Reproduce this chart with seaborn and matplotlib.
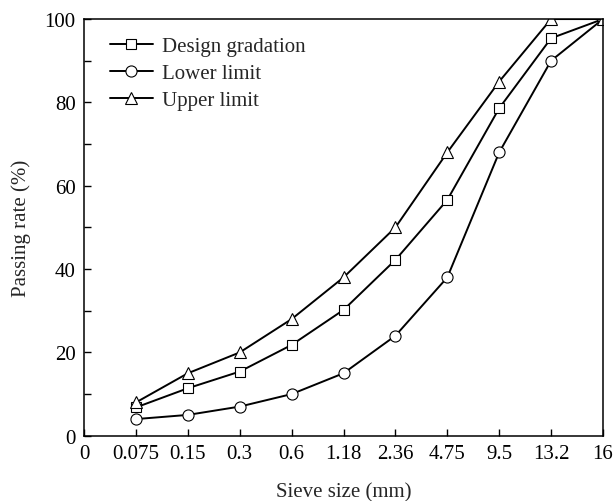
import numpy as np
import pandas as pd
import matplotlib
matplotlib.use("Agg")
import matplotlib.pyplot as plt
import seaborn as sns
from matplotlib.ticker import MultipleLocator

# sieve sizes (mm), "0" is an empty leading category on the axis
sieve_labels = ["0", "0.075", "0.15", "0.3", "0.6", "1.18", "2.36", "4.75", "9.5", "13.2", "16"]
sieve_sizes = ["0.075", "0.15", "0.3", "0.6", "1.18", "2.36", "4.75", "9.5", "13.2", "16"]

design = [6.8, 11.4, 15.4, 21.8, 30.2, 42.2, 56.6, 78.6, 95.4, 100]
lower = [4, 5, 7, 10, 15, 24, 38, 68, 90, 100]
upper = [8, 15, 20, 28, 38, 50, 68, 85, 100, 100]

series = [
    ("Design gradation", design, "s", 7.5),
    ("Lower limit", lower, "o", 8),
    ("Upper limit", upper, "^", 9),
]

sns.set_theme(style="ticks")
plt.rcParams["font.family"] = ["Liberation Serif", "DejaVu Serif"]

fig = plt.figure(figsize=(6.14, 5.02), dpi=100)
ax = fig.add_axes([0.137, 0.130, 0.845, 0.830])

pos = {lab: i for i, lab in enumerate(sieve_labels)}
for name, vals, mk, ms in series:
    df = pd.DataFrame({"x": [pos[s] for s in sieve_sizes], "y": vals})
    sns.lineplot(data=df, x="x", y="y", ax=ax, color="black", lw=1.4,
                 marker=mk, markersize=ms, markerfacecolor="white",
                 markeredgecolor="black", markeredgewidth=0.8, label=name)

ax.set_xlim(0, len(sieve_labels) - 1)
ax.set_ylim(0, 100)
ax.set_xticks(range(len(sieve_labels)))
ax.set_xticklabels(sieve_labels)
ax.yaxis.set_major_locator(MultipleLocator(20))
ax.yaxis.set_minor_locator(MultipleLocator(10))
ax.tick_params(axis="both", which="both", direction="in", labelsize=15,
               width=1.0, color="black", labelcolor="black")
ax.tick_params(which="major", length=5, pad=6)
ax.tick_params(which="minor", length=5)
ax.tick_params(axis="x", which="minor", bottom=False)
for sp in ax.spines.values():
    sp.set_linewidth(1.1)
    sp.set_color("black")

ax.set_xlabel("Sieve size (mm)", fontsize=15, labelpad=14)
ax.set_ylabel("Passing rate (%)", fontsize=15, labelpad=10)

ax.legend(loc="upper left", frameon=False, fontsize=15, handlelength=2.05,
          handletextpad=0.45, labelspacing=0.35, borderpad=0, borderaxespad=0,
          bbox_to_anchor=(0.05, 0.958))

fig.savefig("out.png", dpi=100)
